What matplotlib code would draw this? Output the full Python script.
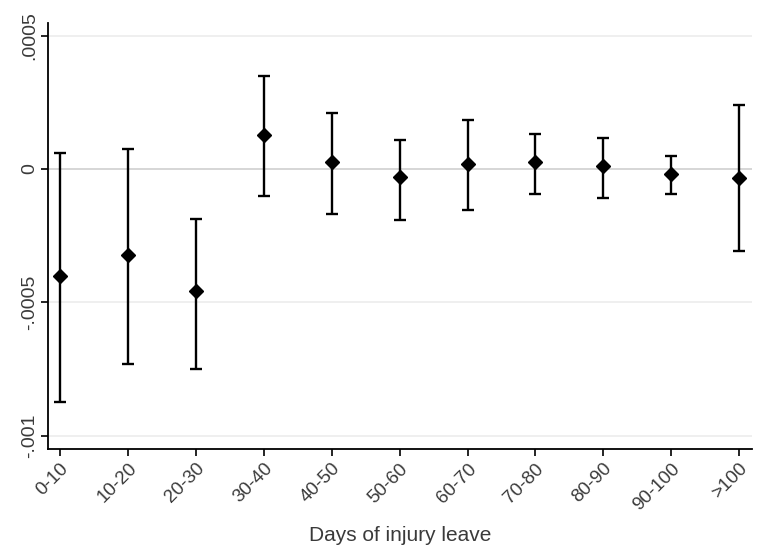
import matplotlib
matplotlib.use("Agg")
import matplotlib.pyplot as plt
import numpy as np

categories = ["0-10", "10-20", "20-30", "30-40", "40-50", "50-60",
              "60-70", "70-80", "80-90", "90-100", ">100"]
estimates = [-0.000401, -0.000322, -0.000457, 0.000129, 0.0000255, -0.0000318,
             0.0000169, 0.0000255, 0.0000094, -0.0000180, -0.0000330]
upper = [0.0000599, 0.0000749, -0.000187, 0.000350, 0.000210, 0.000109,
         0.000182, 0.000133, 0.000117, 0.0000487, 0.000240]
lower = [-0.000873, -0.000730, -0.000749, -0.000100, -0.000168, -0.000191,
         -0.000152, -0.0000929, -0.000107, -0.0000929, -0.000307]
ytick_vals = [0.0005, 0, -0.0005, -0.001]
ytick_labels = [".0005", "0", "-.0005", "-.001"]

plt.rcParams['font.family'] = ['Liberation Sans', 'DejaVu Sans']

fig = plt.figure(figsize=(7.61, 5.51), dpi=100)
ax = fig.add_axes([48/761, 1 - 449/551, (752-48)/761, (449-23)/551])

x = np.arange(len(categories))
est = np.array(estimates)
yerr = np.vstack([est - np.array(lower), np.array(upper) - est])

for v in ytick_vals:
    ax.axhline(v, color="#d0d0d0" if v == 0 else "#ececec", lw=1.2, zorder=0)

ax.errorbar(x, est, yerr=yerr, fmt="D", color="black", ms=7.5,
            ecolor="black", elinewidth=1.7, capsize=4, capthick=1.7, zorder=3)

ax.set_xlim(-0.18, 10.19)
ax.set_ylim(-0.001049, 0.000547)
ax.set_xticks(x)
ax.set_xticklabels(categories, rotation=45, ha="right", rotation_mode="anchor",
                   fontsize=13.5, color="#3a3a3a")
ax.set_yticks(ytick_vals)
ax.set_yticklabels(ytick_labels, rotation=90, va="center", fontsize=14, color="#3a3a3a")
for s in ["top", "right"]:
    ax.spines[s].set_visible(False)
for s in ["left", "bottom"]:
    ax.spines[s].set_linewidth(1.3)
ax.tick_params(axis="both", length=5, width=1.2, color="black")
ax.tick_params(axis="x", pad=3)
ax.tick_params(axis="y", pad=2)
ax.set_xlabel("Days of injury leave", fontsize=15, color="#3a3a3a", labelpad=9)

fig.savefig("out.png", dpi=100)
